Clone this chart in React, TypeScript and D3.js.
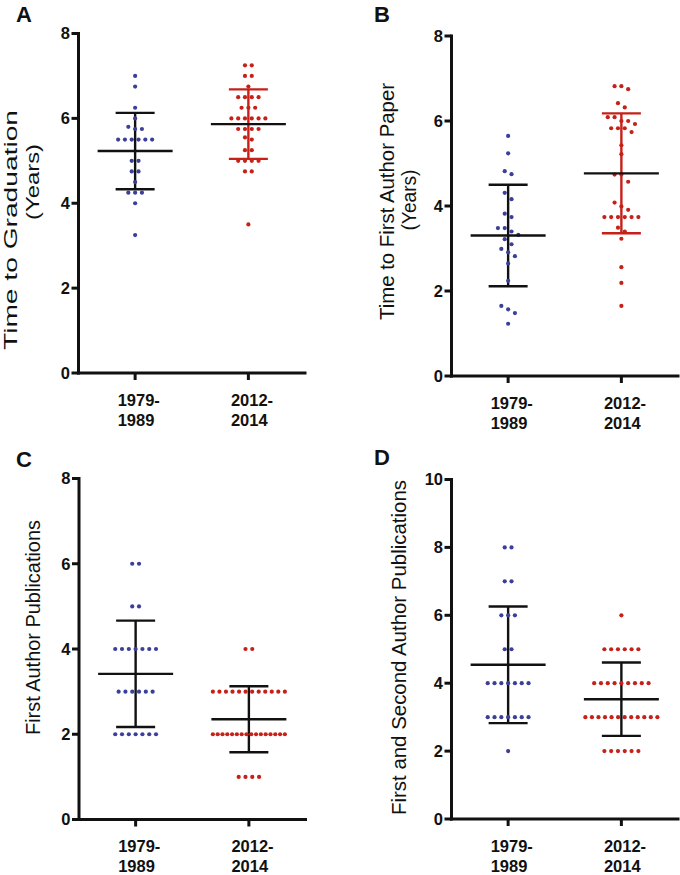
import React from "react";
import * as d3 from "d3";

// ---------- data ----------
const categories = ["1979-1989", "2012-2014"];
const categoryLines = [["1979-", "1989"], ["2012-", "2014"]];

// A: Time to Graduation (years)
const gradEarly = [7.0, 6.75, 6.25, 6.0, 5.8, 5.75, 5.75, 5.5, 5.5, 5.5, 5.5, 5.5, 5.5, 5.0, 5.0, 4.75, 4.75, 4.5, 4.25, 4.25, 4.25, 4.0, 3.25];
const gradRecent = [7.25, 7.25, 7.0, 7.0, 6.75, 6.5, 6.5, 6.5, 6.5, 6.25, 6.25, 6.25, 6.0, 6.0, 6.0, 6.0, 6.0, 6.0, 5.75, 5.75, 5.75, 5.75, 5.55, 5.5, 5.25, 5.25, 5.0, 5.0, 5.0, 5.0, 4.75, 4.75, 3.5];

// B: Time to First Author Paper (years)
const paperEarly = [5.65, 5.24, 4.82, 4.75, 4.31, 4.16, 3.82, 3.74, 3.48, 3.48, 3.4, 3.32, 3.22, 3.1, 2.99, 2.91, 2.82, 2.65, 2.24, 1.65, 1.57, 1.48, 1.23];
const paperRecent = [6.82, 6.82, 6.75, 6.42, 6.32, 6.09, 6.09, 6.0, 6.0, 5.93, 5.83, 5.83, 5.83, 5.74, 5.43, 5.22, 4.74, 4.74, 4.57, 4.08, 3.99, 3.91, 3.74, 3.74, 3.74, 3.74, 3.74, 3.74, 3.49, 3.4, 3.23, 2.56, 2.19, 1.65];

// C: First Author Publications
const firstEarly = [6, 6, 5, 5, 4, 4, 4, 4, 4, 4, 4, 3, 3, 3, 3, 3, 3, 2, 2, 2, 2, 2, 2, 2];
const firstRecent = [4, 4, 3, 3, 3, 3, 3, 3, 3, 3, 3, 3, 3, 3, 2, 2, 2, 2, 2, 2, 2, 2, 2, 2, 2, 2, 2, 2, 2, 2, 1, 1, 1, 1];

// D: First and Second Author Publications
const bothEarly = [8, 8, 7, 7, 6, 6, 6, 5, 5, 4, 4, 4, 4, 4, 4, 4, 3, 3, 3, 3, 3, 3, 3, 2];
const bothRecent = [6, 5, 5, 5, 5, 5, 5, 4, 4, 4, 4, 4, 4, 4, 4, 4, 3, 3, 3, 3, 3, 3, 3, 3, 3, 3, 3, 3, 2, 2, 2, 2, 2, 2];

const ticks8 = [0, 2, 4, 6, 8];
const ticks10 = [0, 2, 4, 6, 8, 10];

// ---------- style ----------
const BLUE = "#3b3f98";
const RED = "#c62119";
const INK = "#111111";
const FONT = "'Liberation Sans', Arial, Helvetica, sans-serif";

type TitleLine = { text: string; x: number; cy: number; len: number; size: number };
type PanelCfg = {
  letter: string; lx: number; ly: number;
  axisX: number; xEnd: number; yTop: number; yBottom: number;
  max: number; ticks: number[];
  early: number[]; recent: number[];
  recentBarColor: string;
  titles: TitleLine[];
};

const panels: PanelCfg[] = [
  {
    letter: "A", lx: 16, ly: 22, axisX: 78.5, xEnd: 305, yTop: 33.5, yBottom: 373, max: 8, ticks: ticks8,
    early: gradEarly, recent: gradRecent, recentBarColor: RED,
    titles: [
      { text: "Time to Graduation", x: 17, cy: 230, len: 240, size: 19 },
      { text: "(Years)", x: 38.5, cy: 182, len: 76, size: 19 },
    ],
  },
  {
    letter: "B", lx: 374, ly: 22, axisX: 451.5, xEnd: 678, yTop: 36, yBottom: 376, max: 8, ticks: ticks8,
    early: paperEarly, recent: paperRecent, recentBarColor: RED,
    titles: [
      { text: "Time to First Author Paper", x: 394, cy: 201.5, len: 237, size: 20 },
      { text: "(Years)", x: 416, cy: 200, len: 61, size: 20 },
    ],
  },
  {
    letter: "C", lx: 16, ly: 467, axisX: 79, xEnd: 305.5, yTop: 478.5, yBottom: 819.5, max: 8, ticks: ticks8,
    early: firstEarly, recent: firstRecent, recentBarColor: INK,
    titles: [{ text: "First Author Publications", x: 39.5, cy: 627.5, len: 215, size: 20 }],
  },
  {
    letter: "D", lx: 374, ly: 465, axisX: 451.5, xEnd: 678, yTop: 479.5, yBottom: 819, max: 10, ticks: ticks10,
    early: bothEarly, recent: bothRecent, recentBarColor: INK,
    titles: [{ text: "First and Second Author Publications", x: 406, cy: 647.5, len: 335, size: 20 }],
  },
];

// Prism-like column scatter: points grouped in rows, each row centred on the column
function swarm(values: number[], y: (v: number) => number, rowH = 7.5, s0 = 6.8, maxW = 72) {
  const pts = values.map((v) => ({ v, py: y(v) })).sort((a, b) => a.py - b.py);
  const rows: { v: number; py: number }[][] = [];
  let cur: { v: number; py: number }[] | null = null;
  for (const p of pts) {
    if (!cur || p.py - cur[0].py > rowH) {
      cur = [p];
      rows.push(cur);
    } else cur.push(p);
  }
  const out: { dx: number; py: number }[] = [];
  rows.forEach((r) => {
    const n = r.length;
    const s = n > 1 ? Math.min(s0, maxW / (n - 1)) : 0;
    r.forEach((p, i) => out.push({ dx: (i - (n - 1) / 2) * s, py: p.py }));
  });
  return out;
}

function Panel({ cfg }: { cfg: PanelCfg }) {
  const y = d3.scaleLinear().domain([0, cfg.max]).range([cfg.yBottom, cfg.yTop]);
  const x = d3.scalePoint<string>().domain(categories).range([cfg.axisX, cfg.xEnd]).padding(0.5);
  const groups = [
    { cat: categories[0], vals: cfg.early, color: BLUE, bar: INK },
    { cat: categories[1], vals: cfg.recent, color: RED, bar: cfg.recentBarColor },
  ];
  return (
    <g>
      <text x={cfg.lx} y={cfg.ly} fontFamily={FONT} fontWeight="bold" fontSize={22} fill={INK}>
        {cfg.letter}
      </text>
      {cfg.titles.map((t, i) => (
        <text
          key={i}
          transform={`translate(${t.x},${t.cy}) rotate(-90)`}
          textAnchor="middle"
          fontFamily={FONT}
          fontSize={t.size}
          fill={INK}
          textLength={t.len}
          lengthAdjust="spacingAndGlyphs"
        >
          {t.text}
        </text>
      ))}
      {/* axes */}
      <line x1={cfg.axisX} x2={cfg.axisX} y1={cfg.yBottom} y2={y(cfg.max)} stroke={INK} strokeWidth={3} strokeLinecap="square" />
      <line x1={cfg.axisX} x2={cfg.xEnd} y1={cfg.yBottom} y2={cfg.yBottom} stroke={INK} strokeWidth={3} strokeLinecap="square" />
      {cfg.ticks.map((t) => (
        <g key={t}>
          <line x1={cfg.axisX - 7} x2={cfg.axisX} y1={y(t)} y2={y(t)} stroke={INK} strokeWidth={3} />
          <text
            x={cfg.axisX - 8.5}
            y={y(t)}
            dy="0.36em"
            textAnchor="end"
            fontFamily={FONT}
            fontWeight="bold"
            fontSize={16.5}
            fill={INK}
          >
            {t}
          </text>
        </g>
      ))}
      {categories.map((c, i) => (
        <g key={c}>
          <line x1={x(c)!} x2={x(c)!} y1={cfg.yBottom} y2={cfg.yBottom + 7} stroke={INK} strokeWidth={3} />
          {categoryLines[i].map((ln, j) => (
            <text
              key={j}
              x={x(c)! - 17.5}
              y={cfg.yBottom + 32.5 + j * 20}
              fontFamily={FONT}
              fontWeight="bold"
              fontSize={16.5}
              fill={INK}
            >
              {ln}
            </text>
          ))}
        </g>
      ))}
      {/* mean ± SD */}
      {groups.map((g) => {
        const cx = x(g.cat)!;
        const m = d3.mean(g.vals)!;
        const sd = d3.deviation(g.vals)!;
        return (
          <g key={g.cat + "bar"}>
            <line x1={cx} x2={cx} y1={y(m + sd)} y2={y(m - sd)} stroke={g.bar} strokeWidth={2.4} />
            <line x1={cx - 19.5} x2={cx + 19.5} y1={y(m + sd)} y2={y(m + sd)} stroke={g.bar} strokeWidth={2.4} />
            <line x1={cx - 19.5} x2={cx + 19.5} y1={y(m - sd)} y2={y(m - sd)} stroke={g.bar} strokeWidth={2.4} />
          </g>
        );
      })}
      {groups.map((g) => {
        const cx = x(g.cat)!;
        return (
          <g key={g.cat + "pts"}>
            {swarm(g.vals, y).map((p, i) => (
              <circle key={i} cx={cx + p.dx} cy={p.py} r={2.1} fill={g.color} />
            ))}
          </g>
        );
      })}
      {groups.map((g) => {
        const cx = x(g.cat)!;
        const m = d3.mean(g.vals)!;
        return <line key={g.cat + "mean"} x1={cx - 37.5} x2={cx + 37.5} y1={y(m)} y2={y(m)} stroke={INK} strokeWidth={2.4} />;
      })}
    </g>
  );
}

export default function App() {
  return (
    <svg
      width={680}
      height={875}
      viewBox="0 0 680 875"
      style={{ position: "absolute", left: 0, top: 0, background: "#ffffff" }}
    >
      <rect x={0} y={0} width={680} height={875} fill="#ffffff" />
      {panels.map((p) => (
        <Panel key={p.letter} cfg={p} />
      ))}
    </svg>
  );
}
